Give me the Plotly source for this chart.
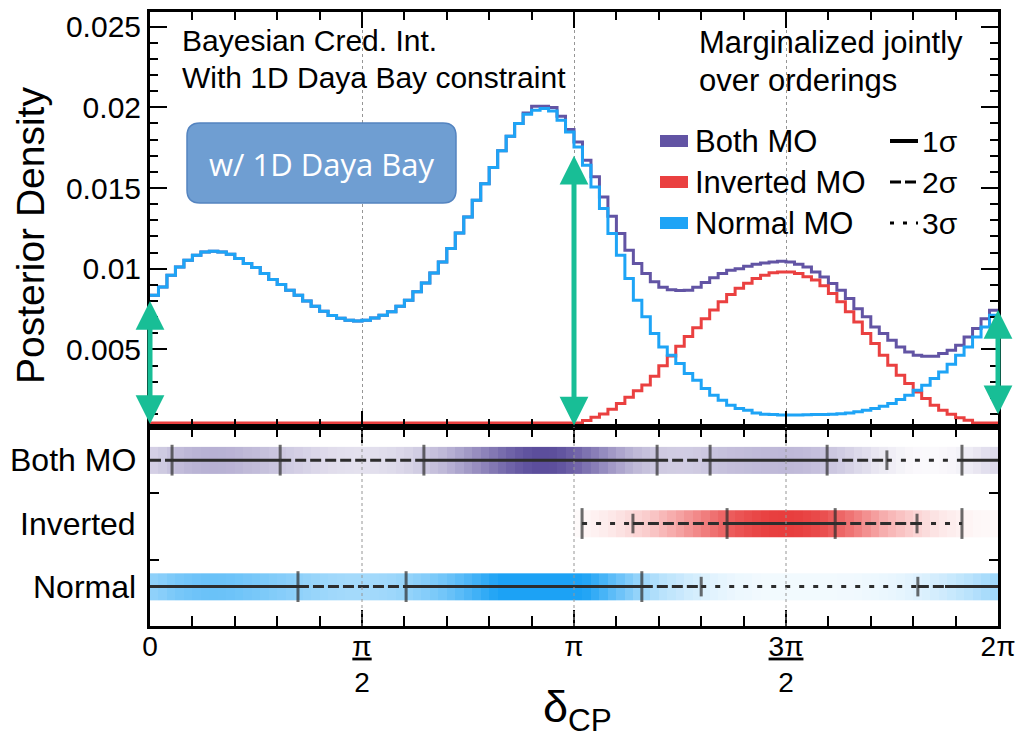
import numpy as np
import plotly.graph_objects as go

# ---------------- data ----------------
# Posterior density (units of 1e-3) in 100 equal bins spanning deltaCP in [0, 2pi]
normal_mo = [8.36, 8.87, 9.60, 10.11, 10.53, 10.84, 11.04, 11.08, 11.04, 10.90,
             10.63, 10.32, 10.07, 9.70, 9.33, 9.02, 8.67, 8.36, 8.01, 7.68,
             7.37, 7.10, 6.93, 6.81, 6.77, 6.81, 6.95, 7.12, 7.33, 7.68,
             8.05, 8.57, 9.12, 9.74, 10.42, 11.25, 12.22, 13.21, 14.24, 15.27,
             16.27, 17.30, 18.20, 18.99, 19.57, 19.81, 19.92, 19.77, 19.20, 18.47,
             17.54, 16.41, 15.07, 13.73, 12.18, 10.84, 9.39, 8.05, 7.02, 5.99,
             5.16, 4.64, 4.13, 3.51, 3.10, 2.58, 2.17, 1.86, 1.55, 1.34,
             1.24, 1.07, 0.99, 0.97, 0.95, 0.95, 0.95, 0.96, 0.97, 0.98,
             0.99, 1.02, 1.07, 1.14, 1.24, 1.34, 1.49, 1.65, 1.90, 2.17,
             2.48, 2.79, 3.20, 3.61, 4.09, 4.64, 5.16, 5.78, 6.40, 7.12]

inverted_mo = [0.00, 0.00, 0.00, 0.00, 0.00, 0.00, 0.00, 0.00, 0.00, 0.00,
               0.00, 0.00, 0.00, 0.00, 0.00, 0.00, 0.00, 0.00, 0.00, 0.00,
               0.00, 0.00, 0.00, 0.00, 0.00, 0.00, 0.00, 0.00, 0.00, 0.00,
               0.00, 0.00, 0.00, 0.00, 0.00, 0.00, 0.00, 0.00, 0.00, 0.00,
               0.00, 0.00, 0.00, 0.00, 0.00, 0.00, 0.00, 0.00, 0.00, 0.00,
               0.30, 0.60, 0.80, 1.00, 1.30, 1.65, 2.05, 2.45, 2.80, 3.35,
               4.00, 4.60, 5.20, 5.80, 6.35, 6.90, 7.45, 7.95, 8.40, 8.80,
               9.10, 9.40, 9.60, 9.75, 9.80, 9.80, 9.70, 9.50, 9.30, 8.95,
               8.46, 7.95, 7.33, 6.71, 5.99, 5.37, 4.64, 4.02, 3.41, 2.89,
               2.37, 1.96, 1.55, 1.24, 0.99, 0.78, 0.62, 0.45, 0.37, 0.37]

both_mo = [8.36, 8.87, 9.60, 10.11, 10.53, 10.84, 11.04, 11.08, 11.04, 10.90,
           10.63, 10.32, 10.07, 9.70, 9.33, 9.02, 8.67, 8.36, 8.01, 7.68,
           7.37, 7.10, 6.93, 6.81, 6.77, 6.81, 6.95, 7.12, 7.33, 7.68,
           8.05, 8.57, 9.12, 9.74, 10.42, 11.25, 12.22, 13.21, 14.24, 15.27,
           16.27, 17.30, 18.20, 18.99, 19.65, 20.06, 20.06, 19.98, 19.44, 18.62,
           17.85, 16.72, 15.69, 14.45, 13.25, 12.18, 11.15, 10.32, 9.70, 9.20,
           8.85, 8.70, 8.65, 8.67, 8.85, 9.15, 9.45, 9.70, 9.90, 10.00,
           10.15, 10.28, 10.36, 10.42, 10.46, 10.42, 10.28, 10.11, 9.80, 9.49,
           9.08, 8.67, 8.15, 7.53, 7.02, 6.40, 5.99, 5.57, 5.16, 4.85,
           4.64, 4.58, 4.58, 4.75, 4.95, 5.26, 5.78, 6.30, 6.91, 7.43]

# Credible-interval boundaries (units of pi) and sigma level of each segment
both_bounds = [0.0, 0.052, 0.307, 0.646, 1.196, 1.321, 1.597, 1.738, 1.915, 2.0]
both_levels = [2, 1, 2, 1, 2, 1, 2, 3, 1]
both_ticks = [0.052, 0.307, 0.646, 1.196, 1.321, 1.597, 1.738, 1.915]

inv_bounds = [1.019, 1.139, 1.361, 1.616, 1.809, 1.915]
inv_levels = [3, 2, 1, 2, 3]
inv_ticks = [1.019, 1.139, 1.361, 1.616, 1.809, 1.915]

nor_bounds = [0.0, 0.349, 0.604, 1.160, 1.300, 1.811, 1.875, 2.0]
nor_levels = [1, 2, 1, 2, 3, 2, 1]
nor_ticks = [0.349, 0.604, 1.160, 1.300, 1.811]

# CP-conserving markers: position (units of pi), low / high density (1e-3)
arrow_x = [0.0, 1.0, 2.0]
arrow_lo = [0.30, 0.20, 0.90]
arrow_hi = [8.00, 17.00, 7.45]

x_tick_vals = [0.0, 0.5, 1.0, 1.5, 2.0]
x_tick_text = ["0", "<u>π</u><br>2", "π", "<u>3π</u><br>2", "2π"]
y_tick_vals = [0.005, 0.010, 0.015, 0.020, 0.025]
y_tick_text = ["0.005", "0.01", "0.015", "0.02", "0.025"]

row_names = ["Both MO", "Inverted", "Normal"]
legend_names = ["Both MO", "Inverted MO", "Normal MO"]
sigma_names = ["1σ", "2σ", "3σ"]

# ---------------- style ----------------
PI = np.pi
FONT = "Liberation Sans, Arial, Helvetica, sans-serif"
C_BOTH = "rgb(98,84,164)"
C_INV = "rgb(234,64,64)"
C_NOR = "rgb(30,164,246)"
C_ARROW = "rgb(24,190,150)"
C_INT = "rgb(45,45,45)"
DASH = {1: "solid", 2: "11px,4px", 3: "5px,9px"}

W, H = 1015, 741
L, R, T, B = 150, 998, 12, 626   # plot area in pixels
SPLIT = 427                       # pixel y of the panel divider
def px(x):
    return (x - L) / (R - L)
def py(y):
    return (B - y) / (B - T)
split_frac = py(SPLIT)

YMIN, YMAX = 0.0002, 0.0259
edges = np.linspace(0, 2 * PI, len(normal_mo) + 1)

fig = go.Figure()

# ---------- top panel: step histograms ----------
for vals, col, name in [(both_mo, C_BOTH, "Both MO"),
                        (inverted_mo, C_INV, "Inverted MO"),
                        (normal_mo, C_NOR, "Normal MO")]:
    v = np.array(vals) * 1e-3
    v = np.maximum(v, YMIN + 0.00025)      # ROOT-like clamp at frame bottom
    fig.add_trace(go.Scatter(x=edges, y=np.append(v, v[-1]), mode="lines",
                             line=dict(color=col, width=3, shape="hv"),
                             name=name, showlegend=False, hoverinfo="skip",
                             xaxis="x", yaxis="y"))

# ---------- bottom panel: density bands ----------
row_y = {"Both MO": 2.50, "Inverted": 1.545, "Normal": 0.594}
half = 0.2
bands = [
    ("Both MO", both_mo, [[0, "rgb(255,255,255)"], [0.22, "rgb(252,251,253)"], [1, "rgb(92,78,156)"]]),
    ("Inverted", inverted_mo, [[0, "rgb(255,255,255)"], [0.5, "rgb(246,168,168)"], [1, "rgb(232,62,62)"]]),
    ("Normal", normal_mo, [[0, "rgb(255,255,255)"], [0.85, "rgb(28,162,245)"], [1, "rgb(28,162,245)"]]),
]
for name, vals, cs in bands:
    yc = row_y[name]
    fig.add_trace(go.Heatmap(x=edges, y=[yc - half, yc + half], z=[vals],
                             colorscale=cs, zmin=0, zmax=max(vals), showscale=False,
                             hoverinfo="skip", xaxis="x2", yaxis="y2"))

# ---------- interval lines ----------
def tick_sizes(bounds, levels, ticks):
    sizes = []
    for t in ticks:
        i = bounds.index(t)
        left = levels[i - 1] if i > 0 else None
        right = levels[i] if i < len(levels) else None
        sizes.append(14 if {left, right} == {2, 3} else 22)
    return sizes

for name, bounds, levels, ticks in [("Both MO", both_bounds, both_levels, both_ticks),
                                    ("Inverted", inv_bounds, inv_levels, inv_ticks),
                                    ("Normal", nor_bounds, nor_levels, nor_ticks)]:
    yc = row_y[name]
    for i, lev in enumerate(levels):
        fig.add_trace(go.Scatter(x=[bounds[i] * PI, bounds[i + 1] * PI], y=[yc, yc],
                                 mode="lines", line=dict(color=C_INT, width=3, dash=DASH[lev]),
                                 showlegend=False, hoverinfo="skip", xaxis="x2", yaxis="y2"))
    fig.add_trace(go.Scatter(x=[t * PI for t in ticks], y=[yc] * len(ticks), mode="markers",
                             marker=dict(symbol="line-ns-open", color=C_INT,
                                         size=tick_sizes(bounds, levels, ticks),
                                         line=dict(color=C_INT, width=3)),
                             showlegend=False, hoverinfo="skip", xaxis="x2", yaxis="y2"))

# ---------- axes ----------
frame = dict(showline=True, linecolor="black", linewidth=3, mirror="ticks", zeroline=False,
             automargin=False)
fig.update_layout(
    xaxis=dict(domain=[0, 1], anchor="y", range=[0, 2 * PI],
               tickmode="array", tickvals=[v * PI for v in x_tick_vals], showticklabels=False,
               ticks="inside", ticklen=16, tickwidth=2, tickcolor="black",
               minor=dict(tick0=0, dtick=PI / 10, ticks="inside", ticklen=8, tickwidth=2,
                          tickcolor="black", showgrid=False),
               showgrid=True, gridcolor="rgb(150,150,150)", gridwidth=1, griddash="3px,3px", **frame),
    yaxis=dict(domain=[split_frac, 1], anchor="x", range=[YMIN, YMAX],
               tickmode="array", tickvals=y_tick_vals, ticktext=y_tick_text,
               ticks="inside", ticklen=17, tickwidth=2, tickcolor="black",
               minor=dict(tick0=0, dtick=0.001, ticks="inside", ticklen=8, tickwidth=2,
                          tickcolor="black", showgrid=False),
               tickfont=dict(family=FONT, size=30, color="black"), ticklabelstandoff=0,
               showgrid=False, **frame),
    xaxis2=dict(domain=[0, 1], anchor="y2", range=[0, 2 * PI], matches="x",
                tickmode="array", tickvals=[v * PI for v in x_tick_vals], ticktext=x_tick_text,
                ticks="inside", ticklen=16, tickwidth=2, tickcolor="black",
                minor=dict(tick0=0, dtick=PI / 10, ticks="inside", ticklen=10, tickwidth=2,
                           tickcolor="black", showgrid=False),
                tickfont=dict(family=FONT, size=28, color="black"), ticklabelstandoff=-7,
                ticklabeloverflow="allow",
                showgrid=False, **frame),
    yaxis2=dict(domain=[0, split_frac], anchor="x2", range=[0, 3],
                tickmode="array", tickvals=[1, 2], showticklabels=False,
                ticks="inside", ticklen=9, tickwidth=2, tickcolor="black",
                showgrid=False, **frame),
)

shapes = []
# dotted grid over the bands
for v in x_tick_vals[1:-1]:
    shapes.append(dict(type="line", xref="x2", yref="y2 domain", x0=v * PI, x1=v * PI, y0=0, y1=1,
                       line=dict(color="rgb(150,150,150)", width=1, dash="3px,3px"), layer="above"))

# rounded box "w/ 1D Daya Bay"
def rounded_rect(x0, y0, x1, y1, r):
    X, Y = px, py
    return (f"M {X(x0 + r)},{Y(y0)} L {X(x1 - r)},{Y(y0)} Q {X(x1)},{Y(y0)} {X(x1)},{Y(y0 + r)} "
            f"L {X(x1)},{Y(y1 - r)} Q {X(x1)},{Y(y1)} {X(x1 - r)},{Y(y1)} "
            f"L {X(x0 + r)},{Y(y1)} Q {X(x0)},{Y(y1)} {X(x0)},{Y(y1 - r)} "
            f"L {X(x0)},{Y(y0 + r)} Q {X(x0)},{Y(y0)} {X(x0 + r)},{Y(y0)} Z")
shapes.append(dict(type="path", xref="paper", yref="paper", path=rounded_rect(187, 123, 456, 203, 13),
                   fillcolor="rgb(111,158,210)", line=dict(color="rgb(84,132,192)", width=1.5),
                   layer="above"))

# legend swatches and sigma line samples
leg_y = [141, 182, 223]
for yy, col in zip(leg_y, [C_BOTH, C_INV, C_NOR]):
    shapes.append(dict(type="rect", xref="paper", yref="paper", x0=px(660), x1=px(688),
                       y0=py(yy + 6), y1=py(yy - 6), fillcolor=col, line=dict(width=0), layer="above"))
for yy, lev in zip(leg_y, [1, 2, 3]):
    shapes.append(dict(type="line", xref="paper", yref="paper", x0=px(890), x1=px(918),
                       y0=py(yy), y1=py(yy), layer="above",
                       line=dict(color="black", width=4 if lev == 1 else 3,
                                 dash={1: "solid", 2: "11px,4px", 3: "4px,9px"}[lev])))
fig.update_layout(shapes=shapes)

ann = []
def text(x, y, s, size, anchor="left", color="black", family=FONT, angle=0):
    ann.append(dict(xref="paper", yref="paper", x=px(x), y=py(y), text=s, showarrow=False,
                    xanchor=anchor, yanchor="middle", textangle=angle,
                    font=dict(family=family, size=size, color=color)))

text(180, 40, "Bayesian Cred. Int.", 30)
text(180, 77, "With 1D Daya Bay constraint", 30)
text(697, 42, "Marginalized jointly", 31)
text(697, 80, "over orderings", 31)
text(321, 164, "w/ 1D Daya Bay", 31, anchor="center", color="white",
     family="Open Sans, Noto Sans, sans-serif")
for yy, s in zip(leg_y, legend_names):
    text(693, yy, s, 31)
for yy, s in zip(leg_y, sigma_names):
    text(920, yy, s, 30)
text(30, 236, "Posterior Density", 39, anchor="center", angle=-90)
text(577, 709, "δ<sub>CP</sub>", 45, anchor="center")

for name in row_names:
    ann.append(dict(xref="paper", yref="y2", x=px(138), y=row_y[name], text=name, showarrow=False,
                    xanchor="right", yanchor="middle", font=dict(family=FONT, size=32, color="black")))

for xa, lo, hi in zip(arrow_x, arrow_lo, arrow_hi):
    ann.append(dict(xref="x", yref="y", x=xa * PI, y=hi * 1e-3, axref="x", ayref="y",
                    ax=xa * PI, ay=lo * 1e-3, text="", showarrow=True,
                    arrowhead=2, startarrowhead=2, arrowside="end+start",
                    arrowsize=1.15, startarrowsize=1.15, arrowwidth=5, arrowcolor=C_ARROW,
                    standoff=0, startstandoff=0))

fig.update_layout(annotations=ann, width=W, height=H,
                  margin=dict(l=L, r=W - R, t=T, b=H - B, autoexpand=False),
                  paper_bgcolor="white", plot_bgcolor="white", showlegend=False,
                  font=dict(family=FONT, color="black"))

fig.write_html("out.html", config={"displayModeBar": False},
               post_script="document.body.style.margin='0px';")
